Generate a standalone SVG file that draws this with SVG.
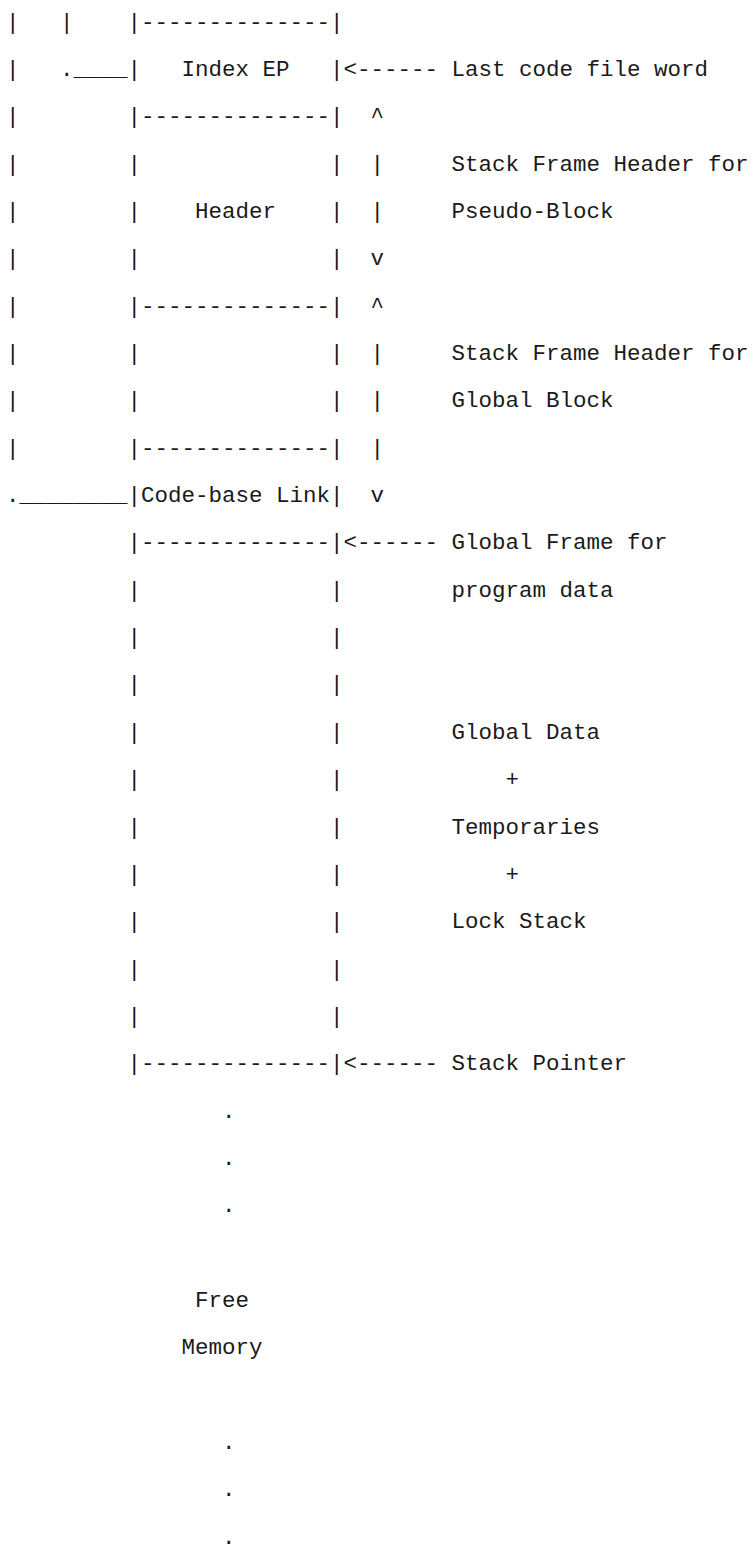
<svg xmlns="http://www.w3.org/2000/svg" width="755" height="1553" viewBox="0 0 755 1553" xml:space="preserve">
<style>
text { font-family: "Liberation Mono", "Courier New", monospace; font-size: 22.5px; fill: #1a1a1a; white-space: pre; }
</style>
<rect width="755" height="1553" fill="#ffffff"/>
<g id="code-file-area">
<text x="6" y="28.5">|   |    |--------------|</text>
<text x="6" y="75.9">|   .____|   Index EP   |&lt;------ Last code file word</text>
<text x="6" y="123.2">|        |--------------|  ^</text>
<text x="6" y="170.6">|        |              |  |     Stack Frame Header for</text>
<text x="6" y="217.9">|        |    Header    |  |     Pseudo-Block</text>
<text x="6" y="265.3">|        |              |  v</text>
<text x="6" y="312.6">|        |--------------|  ^</text>
<text x="6" y="360">|        |              |  |     Stack Frame Header for</text>
<text x="6" y="407.3">|        |              |  |     Global Block</text>
<text x="6" y="454.7">|        |--------------|  |</text>
<text x="6" y="502">.________|Code-base Link|  v</text>
</g>
<g id="global-frame">
<text x="6" y="549.4">         |--------------|&lt;------ Global Frame for</text>
<text x="6" y="596.7">         |              |        program data</text>
<text x="6" y="644.1">         |              |</text>
<text x="6" y="691.4">         |              |</text>
<text x="6" y="738.8">         |              |        Global Data</text>
<text x="6" y="786.1">         |              |            +</text>
<text x="6" y="833.5">         |              |        Temporaries</text>
<text x="6" y="880.8">         |              |            +</text>
<text x="6" y="928.2">         |              |        Lock Stack</text>
<text x="6" y="975.5">         |              |</text>
<text x="6" y="1022.9">         |              |</text>
<text x="6" y="1070.2">         |--------------|&lt;------ Stack Pointer</text>
</g>
<g id="free-memory">
<text x="6" y="1117.6">                .</text>
<text x="6" y="1164.9">                .</text>
<text x="6" y="1212.3">                .</text>
<text x="6" y="1307">              Free</text>
<text x="6" y="1354.3">             Memory</text>
<text x="6" y="1449">                .</text>
<text x="6" y="1496.4">                .</text>
<text x="6" y="1543.7">                .</text>
</g>
</svg>
